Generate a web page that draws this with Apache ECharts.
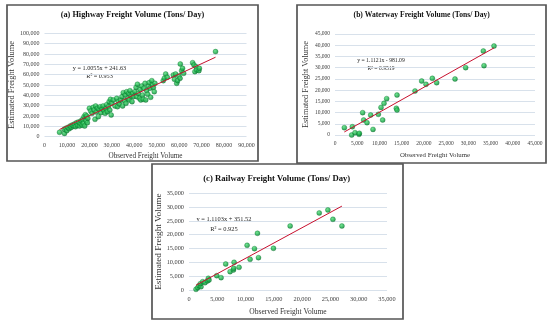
<!DOCTYPE html>
<html>
<head>
<meta charset="utf-8">
<script src="https://cdn.jsdelivr.net/npm/echarts@6/dist/echarts.min.js"></script>
<style>
html,body{margin:0;padding:0;background:#fff;}
#chart{width:550px;height:326px;}
</style>
</head>
<body>
<div id="chart"></div>
<script>
// ---------- DATA ----------
var panelTitles = ['(a) Highway Freight Volume (Tons/ Day)', '(b) Waterway Freight Volume (Tons/ Day)', '(c) Railway Freight Volume (Tons/ Day)'];
var xAxisName = 'Observed Freight Volume';
var yAxisName = 'Estimated Freight Volume';
var equations = ['y = 1.0055x + 241.63', 'y = 1.1121x - 981.09', 'y = 1.1103x + 351.52'];
var rSquared = ['R\u00B2 = 0.953', 'R\u00B2 = 0.9519', 'R\u00B2 = 0.925'];
var slopes = [1.0055, 1.1121, 1.1103];
var intercepts = [241.63, -981.09, 351.52];
var axisMax = [[90000, 100000], [45000, 45000], [35000, 35000]];
var axisStep = [[10000, 10000], [5000, 5000], [5000, 5000]];

var highwayObserved = [6700,8900,8750,9500,9900,10400,11000,11400,11900,12300,12900,13300,13800,14200,14700,15100,15600,15900,16300,16800,17000,17400,17600,17900,18200,18500,18800,19100,19300,
 20000,20600,21200,21700,22100,22500,22800,23100,23600,24000,24300,24800,25200,25700,26100,26500,27000,27400,27700,28000,28500,28800,29100,29400,29700,30000,
 30700,31400,32200,32500,32900,33400,33900,34500,34800,35100,35600,36000,36300,36600,37100,37500,37800,38100,38600,39000,39300,39600,
 40300,40800,41100,41400,41800,42300,42600,42900,43300,43700,44000,44300,44800,45100,45500,46000,46300,46700,47000,47300,47800,48200,48500,48900,49200,
 52900,53400,54000,54700,57400,57900,58400,58900,59300,59900,60400,60500,61100,61500,62000,
 66000,66600,67000,67500,67800,68800,69000,76200];
var highwayEstimated = [4200,3200,7100,8100,5800,9000,7700,10300,9000,11300,10300,12300,9700,13500,11000,14200,10300,12900,15500,11000,16800,12900,19400,10300,21300,15500,20000,13500,17700,
 27400,24800,22600,28400,25800,16800,29700,23900,27400,19400,26500,29000,23200,26800,29700,25200,22600,27100,31000,24200,29000,33900,25800,36100,21000,32300,
 35500,29700,37100,29000,33900,31600,35500,38700,29700,42600,34800,40300,32300,43500,37100,41900,35500,44500,39400,33900,41900,38700,
 43500,47700,38700,50700,41900,37100,45800,35500,49000,40300,36100,46800,51600,35500,44500,41000,49000,52300,46800,38100,54200,50000,47700,43500,51600,
 54200,56500,60600,57400,59700,55500,60600,51600,54200,58700,56500,70300,63900,66100,61300,
 71600,69400,62900,67700,64500,63900,66100,82300];

var waterwayObserved = [2100,3900,3750,4500,5400,5475,6225,6450,7200,8025,8550,9750,10350,10725,11025,11625,13950,13800,13950,18000,19500,20475,21900,22875,27000,29400,33375,33525,35775];
var waterwayEstimated = [3270,3700,0,1040,300,740,9950,6680,5500,8900,2500,9200,12300,6680,14100,16200,17800,11900,11100,19600,24050,22570,25245,23300,24950,30000,37400,30900,39650];

var railwayObserved = [1240,1535,1770,2125,2000,2420,2830,3250,3420,3540,4900,5670,6490,7260,7850,7970,7910,8850,10270,10800,11570,12100,12280,14930,17880,23020,24550,25440,27030];
var railwayEstimated = [240,845,1570,1200,2290,3020,2655,3260,4225,3620,5190,4470,9415,6640,7240,10020,7850,8210,16170,11100,14970,20520,11710,15090,23170,27880,28970,25590,23170];

// ---------- LAYOUT ----------
var grids = [
  {left: 44.5, top: 33.3, width: 202, height: 103.4},
  {left: 335, top: 34, width: 200, height: 101},
  {left: 189, top: 193.3, width: 198, height: 96.7}
];
var panels = [
  {x: 7, y: 5, w: 251, h: 156},
  {x: 297, y: 5, w: 249, h: 158},
  {x: 152, y: 164, w: 251, h: 155}
];
var titlePos = [[132.5, 15, 8.3], [421.7, 15, 7.6], [276.7, 178.3, 8.7]];
var eqPos = [[99.5, 68.5, 76.5, 6.2], [381, 60.5, 68.5, 5.7], [224, 219, 229, 6.4]];
var tickFont = [6, 5.5, 6.3];
var xNameFont = [7.2, 6.8, 7.5];
var yNameFont = [8.4, 8.3, 9.2];
var xNameGap = [16, 17, 18];
var yNameGap = [25.5, 25.5, 24.5];

var serif = '"Liberation Serif","Times New Roman",serif';
var fmt = function (v) { return v.toLocaleString('en-US'); };

var sets = [
  [highwayObserved, highwayEstimated],
  [waterwayObserved, waterwayEstimated],
  [railwayObserved, railwayEstimated]
];

var xAxes = [], yAxes = [], series = [], graphics = [];
for (var i = 0; i < 3; i++) {
  xAxes.push({
    type: 'value', gridIndex: i, min: 0, max: axisMax[i][0], interval: axisStep[i][0],
    name: xAxisName, nameLocation: 'middle', nameGap: xNameGap[i],
    nameTextStyle: {fontFamily: serif, fontSize: xNameFont[i], color: '#333'},
    axisLine: {show: false}, axisTick: {show: false}, splitLine: {show: false},
    axisLabel: {fontFamily: serif, fontSize: tickFont[i], color: '#404040', margin: 6, formatter: fmt}
  });
  yAxes.push({
    type: 'value', gridIndex: i, min: 0, max: axisMax[i][1], interval: axisStep[i][1],
    name: yAxisName, nameLocation: 'middle', nameGap: yNameGap[i],
    nameTextStyle: {fontFamily: serif, fontSize: yNameFont[i], color: '#333'},
    axisLine: {show: false}, axisTick: {show: false},
    splitLine: {show: true, lineStyle: {color: '#d8e1eb', width: 1}},
    axisLabel: {fontFamily: serif, fontSize: tickFont[i], color: '#404040', margin: 5, formatter: fmt}
  });
  var obs = sets[i][0], est = sets[i][1];
  var pts = obs.map(function (x, k) { return [x, est[k]]; });
  series.push({
    type: 'scatter', xAxisIndex: i, yAxisIndex: i, data: pts, symbolSize: 5,
    itemStyle: {
      color: {type: 'radial', x: 0.4, y: 0.35, r: 0.7, colorStops: [{offset: 0, color: '#4fdc75'}, {offset: 0.6, color: '#14a844'}, {offset: 1, color: '#08722c'}]},
      borderColor: '#08722c', borderWidth: 0.4
    },
    z: 3
  });
  var xmin = Math.min.apply(null, obs), xmax = Math.max.apply(null, obs);
  series.push({
    type: 'line', xAxisIndex: i, yAxisIndex: i, symbol: 'none', silent: true,
    data: [[xmin, slopes[i] * xmin + intercepts[i]], [xmax, slopes[i] * xmax + intercepts[i]]],
    lineStyle: {color: '#c8102e', width: 1}, z: 4
  });
  graphics.push({
    type: 'rect', shape: {x: panels[i].x, y: panels[i].y, width: panels[i].w, height: panels[i].h},
    style: {fill: 'rgba(0,0,0,0)', stroke: '#555', lineWidth: 1.7}, silent: true
  });
  graphics.push({
    type: 'text', x: titlePos[i][0], y: titlePos[i][1],
    style: {text: panelTitles[i], font: 'bold ' + titlePos[i][2] + 'px ' + serif, fill: '#111', textAlign: 'center', textVerticalAlign: 'middle'}
  });
  graphics.push({
    type: 'text', x: eqPos[i][0], y: eqPos[i][1],
    style: {text: equations[i], font: eqPos[i][3] + 'px ' + serif, fill: '#262626', textAlign: 'center', textVerticalAlign: 'middle'}
  });
  graphics.push({
    type: 'text', x: eqPos[i][0], y: eqPos[i][2],
    style: {text: rSquared[i], font: eqPos[i][3] + 'px ' + serif, fill: '#262626', textAlign: 'center', textVerticalAlign: 'middle'}
  });
}

var chart = echarts.init(document.getElementById('chart'), null, {renderer: 'canvas'});
chart.setOption({
  backgroundColor: '#fff',
  animation: false,
  grid: grids,
  xAxis: xAxes,
  yAxis: yAxes,
  series: series,
  graphic: graphics
});
</script>
</body>
</html>
